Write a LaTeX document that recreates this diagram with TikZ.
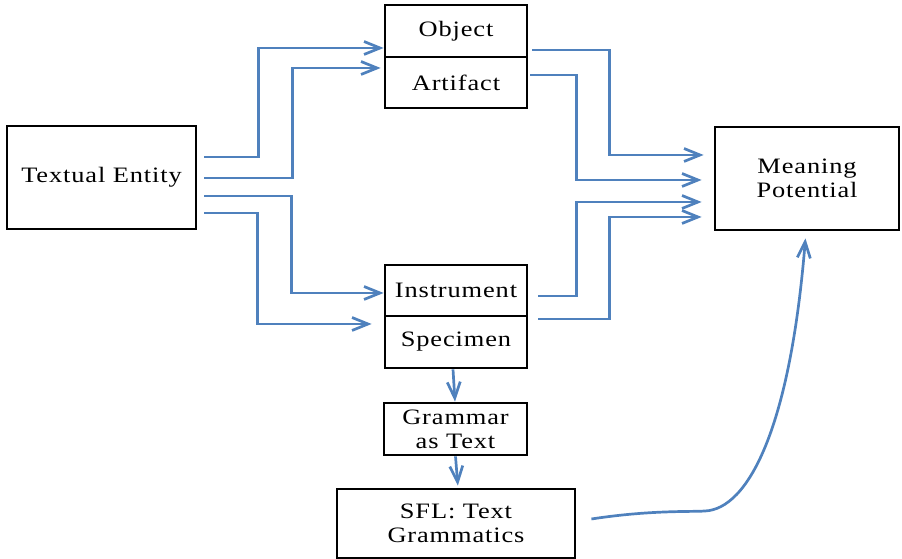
\documentclass[tikz,border=0pt]{standalone}
\usepackage{fontspec}
\setmainfont{Liberation Serif}[FakeStretch=1.2,LetterSpace=4]
\usetikzlibrary{arrows.meta}
\definecolor{flowblue}{RGB}{79,129,189}

\begin{document}
\begin{tikzpicture}[
  x=1pt, y=1pt,
  box/.style={draw=black, line width=2.8pt, fill=white, align=center,
              inner sep=0pt, font=\fontsize{22}{24}\selectfont},
  flow/.style={draw=flowblue, line width=2.7pt,
               -{Straight Barb[length=16pt, width=13pt]}}
]
  \useasboundingbox (0,0) rectangle (902,559);

  \node[box, minimum width=189pt, minimum height=103pt] (te)  at (101.5,381.5) {Textual Entity};
  \node[box, minimum width=142pt, minimum height=52pt]  (obj) at (456,528)     {Object};
  \node[box, minimum width=142pt, minimum height=51pt]  (art) at (456,476.5)   {Artifact};
  \node[box, minimum width=142pt, minimum height=51pt]  (ins) at (456,268.5)   {Instrument};
  \node[box, minimum width=142pt, minimum height=52pt]  (spe) at (456,217)     {Specimen};
  \node[box, minimum width=184pt, minimum height=103pt] (mp)  at (807,380.5)   {Meaning\\Potential};
  \node[box, minimum width=143pt, minimum height=52pt]  (gat) at (455.5,130)   {Grammar\\as Text};
  \node[box, minimum width=238pt, minimum height=69pt]  (sfl) at (456,35.5)    {SFL: Text\\Grammatics};

  \draw[flow] ([xshift=7pt,yshift=20.5pt]te.east) -- ++(54,0) |- ([yshift=-17pt]obj.west);
  \draw[flow, shorten >=3pt] ([xshift=7pt,yshift=-0.5pt]te.east) -- ++(88,0) |- ([yshift=14.5pt]art.west);
  \draw[flow] ([xshift=7pt,yshift=-18.5pt]te.east) -- ++(87,0) |- ([yshift=-2.5pt]ins.west);
  \draw[flow, shorten >=12pt] ([xshift=7pt,yshift=-35.5pt]te.east) -- ++(53,0) |- ([yshift=18pt]spe.west);

  \draw[flow, shorten >=10pt] ([xshift=4pt,yshift=-19pt]obj.east) -- ++(77,0) |- ([yshift=23.5pt]mp.west);
  \draw[flow, shorten >=12pt] ([xshift=2pt,yshift=7.5pt]art.east) -- ++(46,0) |- ([yshift=-1.5pt]mp.west);
  \draw[flow, shorten >=12pt] ([xshift=10pt,yshift=-5.5pt]ins.east) -- ++(38,0) |- ([yshift=-23.5pt]mp.west);
  \draw[flow, shorten >=12pt] ([xshift=10pt,yshift=23pt]spe.east) -- ++(71,0) |- ([yshift=-38.5pt]mp.west);

  \draw[flow] ([xshift=-3pt]spe.south) -- ([xshift=-0.5pt]gat.north);
  \draw[flow, shorten >=2pt] (gat.south) -- ([xshift=2pt]sfl.north);

  \draw[flow, shorten >=7pt] ([xshift=15pt,yshift=4.5pt]sfl.east)
    .. controls (650,49) and (690,47) .. (705,48)
    .. controls (748,50) and (790,130) .. ([xshift=-1pt]mp.south);
\end{tikzpicture}
\end{document}
